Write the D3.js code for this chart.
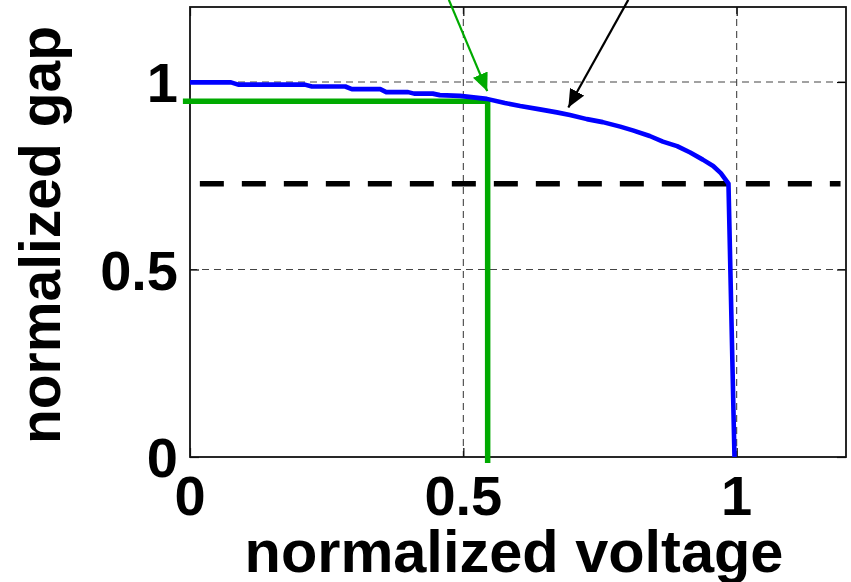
<!DOCTYPE html>
<html>
<head>
<meta charset="utf-8">
<script src="https://cdn.jsdelivr.net/npm/d3@7"></script>
<style>
  body { margin: 0; background: #fff; }
  svg { display: block; }
  .label { font-family: "Liberation Sans", Arial, sans-serif; font-weight: bold; fill: #000; }
</style>
</head>
<body>
<svg id="chart"></svg>
<script>
const voltage = [0, 0.075, 0.088, 0.210, 0.223, 0.284, 0.296, 0.348, 0.359, 0.399, 0.410, 0.444, 0.457,
  0.494, 0.543, 0.576, 0.604, 0.640, 0.671, 0.695, 0.726, 0.755, 0.787, 0.810, 0.841, 0.865, 0.891,
  0.915, 0.938, 0.957, 0.971, 0.985, 0.996];
const gap = [0.999, 0.999, 0.993, 0.993, 0.988, 0.988, 0.981, 0.981, 0.973, 0.973, 0.969, 0.969, 0.965,
  0.963, 0.955, 0.944, 0.936, 0.927, 0.919, 0.912, 0.901, 0.893, 0.881, 0.871, 0.856, 0.841, 0.829,
  0.812, 0.793, 0.776, 0.757, 0.729, 0];

const xTicks = [0, 0.5, 1];
const yTicks = [0, 0.5, 1];

// pull-in level (black dashed) and operating point (green)
const pullInGap = 0.729;
const pullInSpan = [0.018, 1.19];
const operatingVoltage = 0.5445;
const operatingGap = 0.9485;

// annotation arrows: [x1, y1, x2, y2] in data units
const greenArrow = [0.4735, 1.219, 0.5437, 0.9755];
const blackArrow = [0.8017, 1.219, 0.6921, 0.932];

const width = 851;
const height = 582;
const plot = { left: 190, right: 846, top: 7, bottom: 457 };

const svg = d3.select('#chart')
  .attr('width', width)
  .attr('height', height);

const xScale = d3.scaleLinear()
  .domain([0, 1.2])
  .range([plot.left, plot.right]);

const yScale = d3.scaleLinear()
  .domain([0, 1.2])
  .range([plot.bottom, plot.top]);

// grid
const grid = svg.append('g')
  .attr('stroke', '#444')
  .attr('stroke-width', 1.1)
  .attr('stroke-dasharray', '7,5');

grid.selectAll('line.vx')
  .data(xTicks.filter((d) => d > 0))
  .enter()
  .append('line')
  .attr('x1', (d) => xScale(d))
  .attr('x2', (d) => xScale(d))
  .attr('y1', plot.top)
  .attr('y2', plot.bottom);

grid.selectAll('line.hy')
  .data(yTicks.filter((d) => d > 0))
  .enter()
  .append('line')
  .attr('x1', plot.left)
  .attr('x2', plot.right)
  .attr('y1', (d) => yScale(d))
  .attr('y2', (d) => yScale(d));

// axes with inward ticks, box on all sides
const axisStyle = (g) => {
  g.select('.domain').remove();
  g.selectAll('.tick line').attr('stroke', '#000').attr('stroke-width', 1.2);
  g.selectAll('.tick text').remove();
};

svg.append('g')
  .attr('transform', `translate(0, ${plot.bottom})`)
  .call(d3.axisBottom(xScale).tickValues(xTicks).tickSize(-9))
  .call(axisStyle);
svg.append('g')
  .attr('transform', `translate(0, ${plot.top})`)
  .call(d3.axisTop(xScale).tickValues(xTicks).tickSize(-9))
  .call(axisStyle);
svg.append('g')
  .attr('transform', `translate(${plot.left}, 0)`)
  .call(d3.axisLeft(yScale).tickValues(yTicks).tickSize(-9))
  .call(axisStyle);
svg.append('g')
  .attr('transform', `translate(${plot.right}, 0)`)
  .call(d3.axisRight(yScale).tickValues(yTicks).tickSize(-9))
  .call(axisStyle);

svg.append('rect')
  .attr('x', plot.left)
  .attr('y', plot.top)
  .attr('width', plot.right - plot.left)
  .attr('height', plot.bottom - plot.top)
  .attr('fill', 'none')
  .attr('stroke', '#111')
  .attr('stroke-width', 1.8);

// pull-in dashed line
svg.append('line')
  .attr('x1', xScale(pullInSpan[0]))
  .attr('x2', xScale(pullInSpan[1]))
  .attr('y1', yScale(pullInGap))
  .attr('y2', yScale(pullInGap))
  .attr('stroke', '#000')
  .attr('stroke-width', 5.5)
  .attr('stroke-dasharray', '24,18');

// operating point lines
const greenLine = d3.line()
  .x((d) => xScale(d[0]))
  .y((d) => yScale(d[1]));

svg.append('path')
  .datum([[-0.013, operatingGap], [operatingVoltage, operatingGap], [operatingVoltage, -0.016]])
  .attr('d', greenLine)
  .attr('fill', 'none')
  .attr('stroke', '#00aa00')
  .attr('stroke-width', 5.5);

// gap vs voltage curve
const curve = d3.line()
  .x((d, i) => xScale(voltage[i]))
  .y((d) => yScale(d));

svg.append('path')
  .datum(gap)
  .attr('d', curve)
  .attr('fill', 'none')
  .attr('stroke', '#0000ff')
  .attr('stroke-width', 4.6)
  .attr('stroke-linejoin', 'round');

// arrows
const defs = svg.append('defs');
const addMarker = (id, color) => {
  defs.append('marker')
    .attr('id', id)
    .attr('viewBox', '0 0 18 16')
    .attr('refX', 18)
    .attr('refY', 8)
    .attr('markerWidth', 18)
    .attr('markerHeight', 16)
    .attr('markerUnits', 'userSpaceOnUse')
    .attr('orient', 'auto')
    .append('path')
    .attr('d', 'M0,0 L18,8 L0,16 Z')
    .attr('fill', color);
};
addMarker('head-green', '#00aa00');
addMarker('head-black', '#000');

[[greenArrow, '#00aa00', 'head-green'], [blackArrow, '#000', 'head-black']].forEach(([a, color, id]) => {
  svg.append('line')
    .attr('x1', xScale(a[0]))
    .attr('y1', yScale(a[1]))
    .attr('x2', xScale(a[2]))
    .attr('y2', yScale(a[3]))
    .attr('stroke', color)
    .attr('stroke-width', 2.2)
    .attr('marker-end', `url(#${id})`);
});

// tick labels
svg.append('g')
  .selectAll('text')
  .data(xTicks)
  .enter()
  .append('text')
  .attr('class', 'label')
  .attr('x', (d) => xScale(d))
  .attr('y', plot.bottom + 58)
  .attr('text-anchor', 'middle')
  .attr('font-size', 56)
  .text((d) => d);

svg.append('g')
  .selectAll('text')
  .data(yTicks)
  .enter()
  .append('text')
  .attr('class', 'label')
  .attr('x', plot.left - 12)
  .attr('y', (d) => yScale(d) + 20)
  .attr('text-anchor', 'end')
  .attr('font-size', 56)
  .text((d) => d);

// axis titles
svg.append('text')
  .attr('class', 'label')
  .attr('x', (plot.left + plot.right) / 2 - 4)
  .attr('y', 572)
  .attr('text-anchor', 'middle')
  .attr('font-size', 59.5)
  .text('normalized voltage');

svg.append('text')
  .attr('class', 'label')
  .attr('transform', 'translate(60, 235) rotate(-90)')
  .attr('text-anchor', 'middle')
  .attr('font-size', 57)
  .text('normalized gap');
</script>
</body>
</html>
